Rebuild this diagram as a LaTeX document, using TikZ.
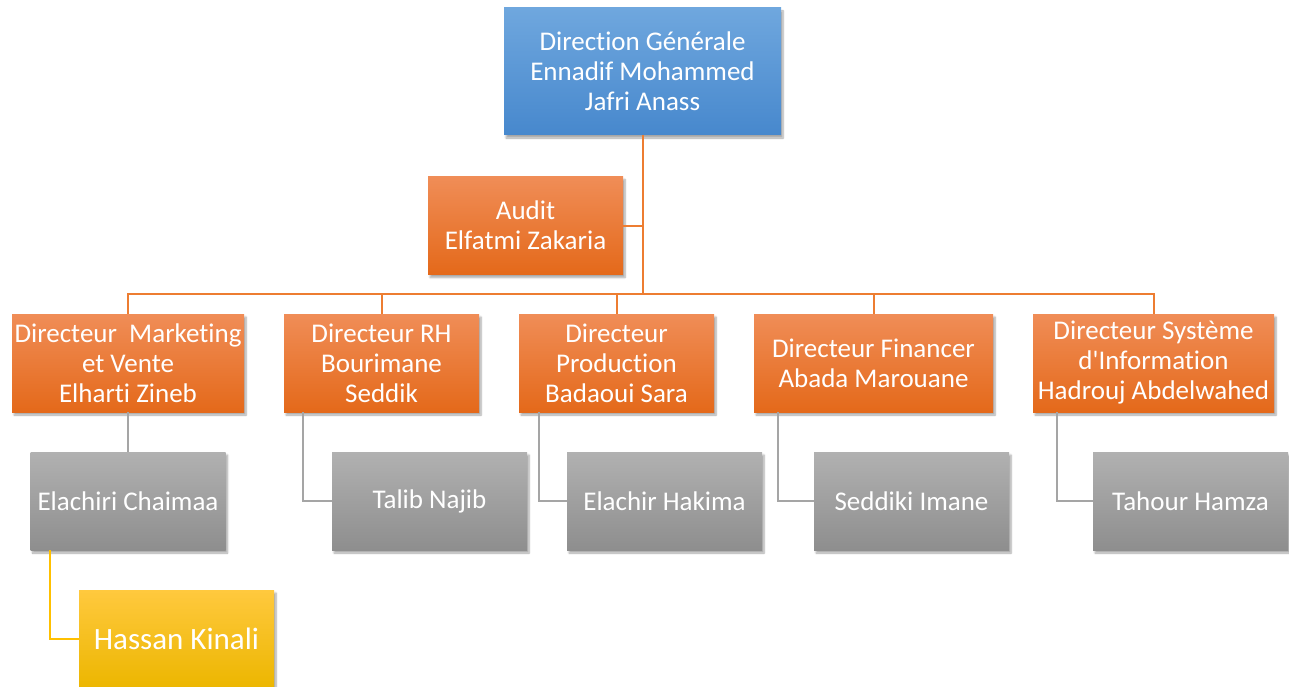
\documentclass[tikz,border=0pt]{standalone}
\usepackage{fontspec}
\setmainfont{Carlito}[Ligatures={TeXOff,NoCommon}]
\usetikzlibrary{shadows.blur}

\definecolor{dgtop}{HTML}{6FA7DE}
\definecolor{dgbot}{HTML}{4788CD}
\definecolor{ortop}{HTML}{F08D57}
\definecolor{orbot}{HTML}{E4691A}
\definecolor{grtop}{HTML}{B1B1B1}
\definecolor{grbot}{HTML}{8E8E8E}
\definecolor{yetop}{HTML}{FFC93E}
\definecolor{yebot}{HTML}{ECB600}
\definecolor{orline}{HTML}{ED7D31}
\definecolor{grline}{HTML}{A5A5A5}
\definecolor{yeline}{HTML}{FFC000}

\tikzset{
  box/.style={rectangle, inner sep=2pt, align=center, text=white,
    font=\fontsize{27}{30}\selectfont,
    blur shadow={shadow xshift=2pt, shadow yshift=-3pt,
      shadow blur steps=6, shadow opacity=35}},
  dgbox/.style={box, top color=dgtop, bottom color=dgbot,
    minimum width=277pt, minimum height=127pt},
  dirbox/.style={box, top color=ortop, bottom color=orbot,
    minimum height=98pt},
  staffbox/.style={box, top color=grtop, bottom color=grbot,
    minimum width=195pt, minimum height=98pt},
  assistbox/.style={box, top color=yetop, bottom color=yebot,
    minimum width=195pt, minimum height=98pt,
    font=\fontsize{31}{34}\selectfont},
  orgline/.style={draw=orline, line width=2pt},
  staffline/.style={draw=grline, line width=2pt},
  assistline/.style={draw=yeline, line width=2pt}
}

\begin{document}
\begin{tikzpicture}[x=1pt, y=-1pt]
  \useasboundingbox (0,0) rectangle (1289,687);
  % direction and audit
  \path
    (642.5,71.5) node[dgbox] (dg){Direction Générale\\Ennadif Mohammed\\Jafri Anass}
    (525.5,225.5) node[dirbox, minimum width=195pt] (audit){Audit\\Elfatmi Zakaria};
  % directors
  \path
    (128,363) node[dirbox, minimum width=232pt] (mkt){Directeur\ \ Marketing\\et Vente\\Elharti Zineb}
    (381.5,363) node[dirbox, minimum width=195pt] (rh){Directeur RH\\Bourimane\\Seddik}
    (616.5,363) node[dirbox, minimum width=195pt] (prod){Directeur\\Production\\Badaoui Sara}
    (873.5,363) node[dirbox, minimum width=239pt] (fin){Directeur Financer\\Abada Marouane}
    (1153.5,363) node[dirbox, minimum width=241pt] (si){Directeur Système\\d'Information\\Hadrouj Abdelwahed};
  % staff
  \path
    (128,501) node[staffbox] (chaimaa){Elachiri Chaimaa}
    (429.5,501) node[staffbox] (najib){Talib Najib}
    (664.5,501) node[staffbox] (hakima){Elachir Hakima}
    (911.5,501) node[staffbox] (imane){Seddiki Imane}
    (1190.5,501) node[staffbox] (hamza){Tahour Hamza}
    (176.5,639) node[assistbox] (hassan){Hassan Kinali};
  \coordinate (bus) at (642.5,294);
  \begin{scope}[orgline]
    \draw (dg) -- (bus);
    \draw (audit.east) -- (audit.east -| bus);
    \draw (bus) -| (mkt);
    \draw (bus) -| (rh);
    \draw (bus) -| (prod);
    \draw (bus) -| (fin);
    \draw (bus) -| (si);
  \end{scope}
  \begin{scope}[staffline]
    \draw (mkt) -- (chaimaa);
    \draw ([xshift=19pt]rh.south west) |- (najib);
    \draw ([xshift=20pt]prod.south west) |- (hakima);
    \draw ([xshift=24pt]fin.south west) |- (imane);
    \draw ([xshift=24pt]si.south west) |- (hamza);
  \end{scope}
  \begin{scope}[assistline]
    \draw ([xshift=20pt]chaimaa.south west) |- (hassan);
  \end{scope}
\end{tikzpicture}
\end{document}
